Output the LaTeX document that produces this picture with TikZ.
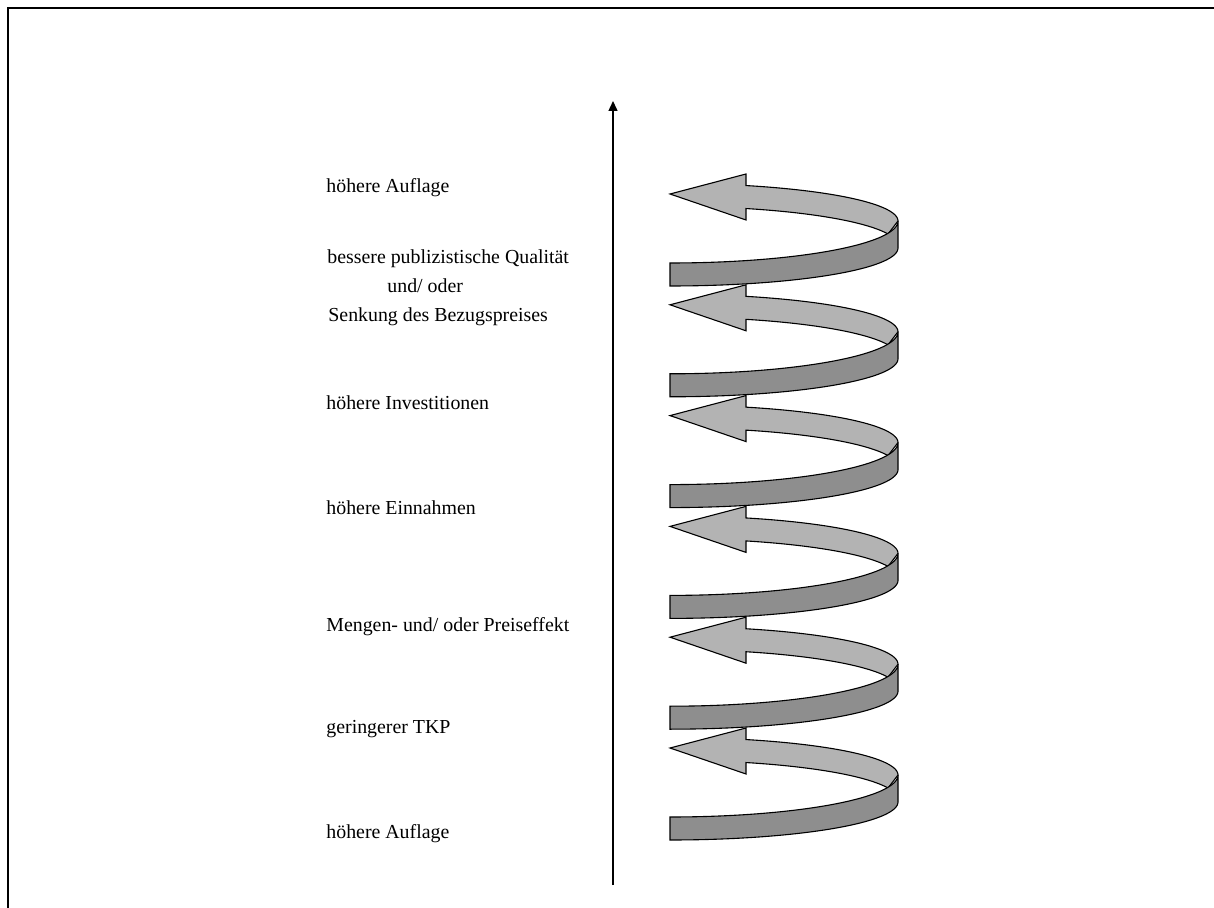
\documentclass[tikz,border=0pt]{standalone}
\usepackage{fontspec}
\setmainfont{Liberation Serif}
\usetikzlibrary{arrows.meta}
\definecolor{lightband}{RGB}{179,179,179}
\definecolor{darkband}{RGB}{142,142,142}
\begin{document}
\begin{tikzpicture}[x=0.5pt,y=-0.5pt,
  lbl/.style={anchor=base west,inner sep=0pt,font=\fontsize{9.93}{12}\selectfont},
  lightpart/.style={fill=lightband,draw=black,line width=0.55pt},
  darkpart/.style={fill=darkband,draw=black,line width=0.55pt},
  frameline/.style={line width=1pt},
  axisline/.style={line width=0.7pt,-{Triangle[length=5pt,width=4.5pt]}}]
\useasboundingbox (0,0) rectangle (1214,908);
\draw[frameline] (8,908) -- (8,8) -- (1214,8);
% axis
\coordinate (axisbot) at (613,885);
\coordinate (axistop) at (613,101);
\draw[axisline] (axisbot) -- (axistop);
% spiral
\foreach \T in {194,304.8,415.6,526.4,637.2,748}{
  \filldraw[lightpart] (670,\T) -- (746,\T-20) -- (746,\T-8.5)
    -- plot[domain=70.53:0,samples=40] ({670+228*cos(\x)},{\T+27-37.6*sin(\x)})
    -- (888,\T+40)
    -- plot[domain=17:70.53,samples=40] ({670+228*cos(\x)},{\T+51.5-39.2*sin(\x)})
    -- (746,\T+26) -- cycle;
  \filldraw[darkpart] (670,\T+69)
    -- plot[domain=90:0,samples=50] ({670+228*cos(\x)},{\T+27+42*sin(\x)})
    -- (898,\T+54)
    -- plot[domain=0:90,samples=50] ({670+228*cos(\x)},{\T+54+38*sin(\x)})
    -- cycle;
}
% labels
\node[lbl] (l1) at (326,193) {höhere Auflage};
\node[lbl] (l2a) at (327,264) {bessere publizistische Qualität};
\node[lbl] (l2b) at (387,293) {und/ oder};
\node[lbl] (l2c) at (328,321.5) {Senkung des Bezugspreises};
\node[lbl] (l3) at (326,410) {höhere Investitionen};
\node[lbl] (l4) at (326,515) {höhere Einnahmen};
\node[lbl] (l5) at (326,631.5) {Mengen- und/ oder Preiseffekt};
\node[lbl] (l6) at (326,733) {geringerer TKP};
\node[lbl] (l7) at (326,838) {höhere Auflage};
\end{tikzpicture}
\end{document}
